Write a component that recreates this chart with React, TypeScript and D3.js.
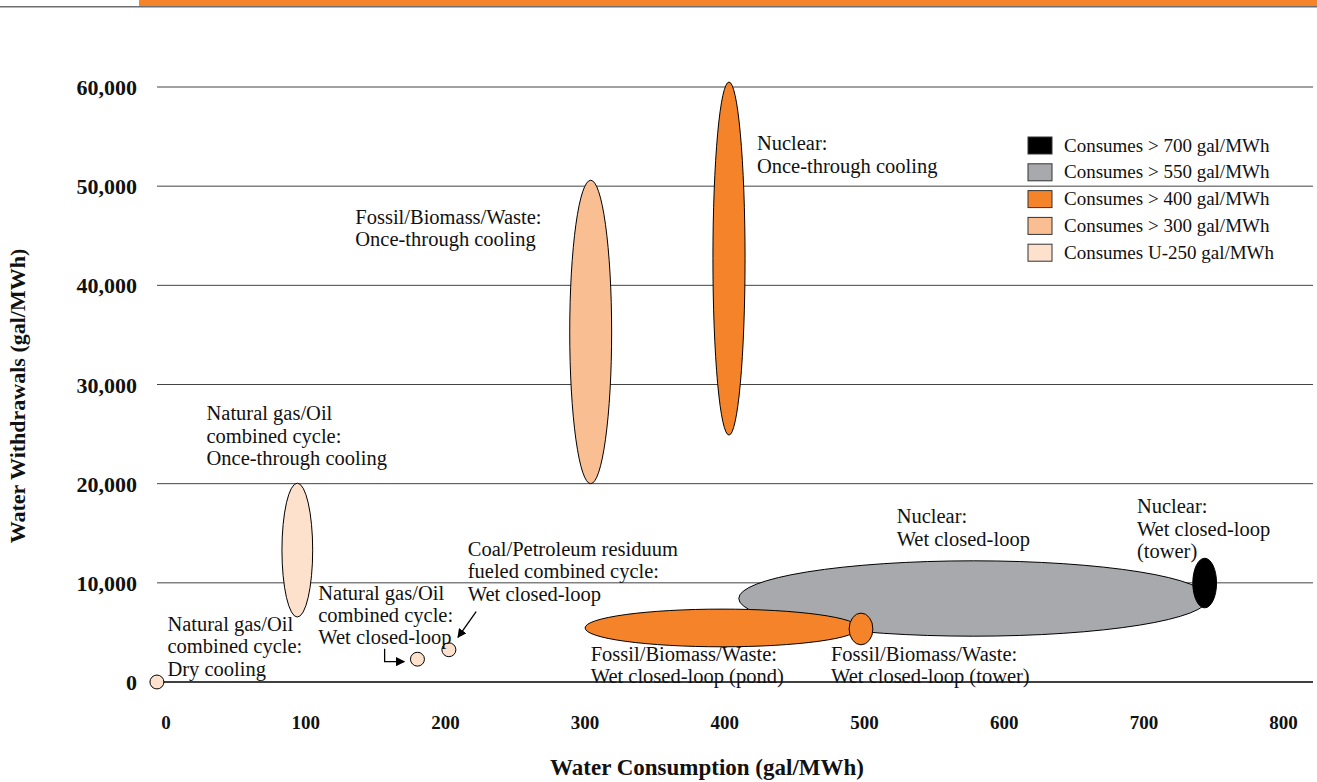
import React from "react";
import * as d3 from "d3";

// ---- data ----
const xTicks = [0, 100, 200, 300, 400, 500, 600, 700, 800];
const yTicks = [0, 10000, 20000, 30000, 40000, 50000, 60000];

const techNames = [
  "Nuclear: Wet closed-loop",
  "NG/Oil CC: Dry cooling",
  "NG/Oil CC: Once-through cooling",
  "NG/Oil CC: Wet closed-loop",
  "Coal/Petroleum residuum CC: Wet closed-loop",
  "Fossil/Biomass/Waste: Once-through cooling",
  "Nuclear: Once-through cooling",
  "Fossil/Biomass/Waste: Wet closed-loop (pond)",
  "Fossil/Biomass/Waste: Wet closed-loop (tower)",
  "Nuclear: Wet closed-loop (tower)",
];
const consumptionCenter = [578, -6.5, 94, 180, 202.5, 304, 403, 398, 497.5, 743.5];
const consumptionHalfRange = [168, 5, 11, 5, 5, 15, 11.5, 98, 8.5, 8.5];
const withdrawalCenter = [8420, 0, 13300, 2300, 3250, 35300, 42700, 5450, 5350, 9980];
const withdrawalHalfRange = [3800, 700, 6750, 700, 700, 15300, 17800, 1900, 1600, 2500];
const consumptionClass = [1, 4, 4, 4, 4, 3, 2, 2, 2, 0];

const legendLabels = [
  "Consumes > 700 gal/MWh",
  "Consumes > 550 gal/MWh",
  "Consumes > 400 gal/MWh",
  "Consumes > 300 gal/MWh",
  "Consumes U-250 gal/MWh",
];
const legendColors = ["#000000", "#a7a9ac", "#f5832a", "#f9bf93", "#fde1cd"];

const annotationLines = [
  ["Nuclear:", "Once-through cooling"],
  ["Fossil/Biomass/Waste:", "Once-through cooling"],
  ["Natural gas/Oil", "combined cycle:", "Once-through cooling"],
  ["Coal/Petroleum residuum", "fueled combined cycle:", "Wet closed-loop"],
  ["Natural gas/Oil", "combined cycle:", "Wet closed-loop"],
  ["Natural gas/Oil", "combined cycle:", "Dry cooling"],
  ["Fossil/Biomass/Waste:", "Wet closed-loop (pond)"],
  ["Fossil/Biomass/Waste:", "Wet closed-loop (tower)"],
  ["Nuclear:", "Wet closed-loop"],
  ["Nuclear:", "Wet closed-loop", "(tower)"],
];
// anchor (data coords) of first line baseline
const annotationX = [423, 135.5, 29, 216, 109, 1, 304, 476, 523, 695];
const annotationY = [53600, 46200, 26400, 12700, 8300, 5150, 2150, 2150, 16000, 17000];

const W = 1317;
const H = 782;
const serif = "Liberation Serif, Times New Roman, serif";

export default function App() {
  const x = d3.scaleLinear().domain([0, 800]).range([166, 1283.6]);
  const y = d3.scaleLinear().domain([0, 60000]).range([682, 87]);
  const lineH = 22.3;

  const arrowPath1 = `M${x(222)},${y(7100)} L${x(209)},${y(4500)}`;
  const elbow = `M${x(156.5)},${y(3350)} L${x(156.5)},${y(2050)} L${x(170.5)},${y(2050)}`;

  return (
    <svg
      width={W}
      height={H}
      style={{ position: "absolute", left: 0, top: 0, background: "#fff", fontFamily: serif }}
    >
      <defs>
        <marker id="ah" viewBox="0 0 10 10" refX="9" refY="5" markerWidth="7" markerHeight="7" orient="auto">
          <path d="M0,0 L10,5 L0,10 z" fill="#000" />
        </marker>
      </defs>
      {/* header bar */}
      <rect x={139} y={0} width={W - 139} height={6} fill="#f5832a" />
      <line x1={0} x2={W} y1={6.7} y2={6.7} stroke="#6d6e71" strokeWidth={1.5} />

      {/* grid */}
      {yTicks.map((t) => (
        <g key={t}>
          <line
            x1={157}
            x2={1313}
            y1={y(t)}
            y2={y(t)}
            stroke={t === 0 ? "#000" : "#444"}
            strokeWidth={t === 0 ? 1.6 : 1}
          />
          <text
            x={137}
            y={y(t) + 8}
            textAnchor="end"
            fontSize={22}
            fontWeight="bold"
            fill="#111"
          >
            {d3.format(",")(t)}
          </text>
        </g>
      ))}
      {xTicks.map((t) => (
        <text key={t} x={x(t)} y={729} textAnchor="middle" fontSize={19} fontWeight="bold" fill="#111">
          {t}
        </text>
      ))}
      <text x={707} y={775} textAnchor="middle" fontSize={23} fontWeight="bold" fill="#111">
        Water Consumption (gal/MWh)
      </text>
      <text
        transform={`translate(25,396) rotate(-90)`}
        textAnchor="middle"
        fontSize={22}
        fontWeight="bold"
        fill="#111"
      >
        Water Withdrawals (gal/MWh)
      </text>

      {/* ellipses */}
      {techNames.map((n, i) => (
        <ellipse
          key={n}
          cx={x(consumptionCenter[i])}
          cy={y(withdrawalCenter[i])}
          rx={x(consumptionHalfRange[i]) - x(0)}
          ry={y(0) - y(withdrawalHalfRange[i])}
          fill={legendColors[consumptionClass[i]]}
          stroke="#000"
          strokeWidth={1}
        />
      ))}

      {/* arrows */}
      <path d={arrowPath1} stroke="#000" strokeWidth={1.3} fill="none" markerEnd="url(#ah)" />
      <path d={elbow} stroke="#000" strokeWidth={1.3} fill="none" markerEnd="url(#ah)" />

      {/* annotations */}
      {annotationLines.map((lines, i) => (
        <text key={i} x={x(annotationX[i])} y={y(annotationY[i])} fontSize={20.5} fill="#111">
          {lines.map((l, j) => (
            <tspan key={j} x={x(annotationX[i])} dy={j === 0 ? 0 : lineH}>
              {l}
            </tspan>
          ))}
        </text>
      ))}

      {/* legend */}
      {legendLabels.map((l, i) => (
        <g key={l} transform={`translate(1028, ${137 + i * 26.8})`}>
          <rect width={24} height={17} fill={legendColors[i]} stroke="#333" strokeWidth={1} />
          <text x={36} y={14.5} fontSize={19} fill="#111">
            {l}
          </text>
        </g>
      ))}
    </svg>
  );
}
